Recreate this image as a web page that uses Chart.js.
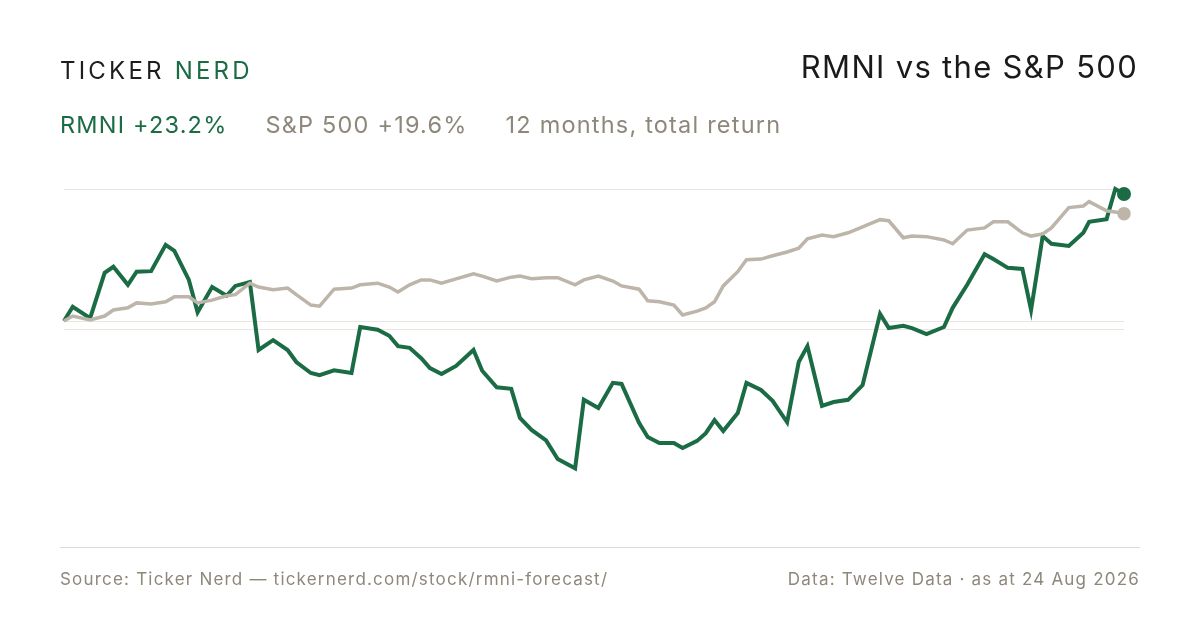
<!DOCTYPE html>
<html><head><meta charset="utf-8">
<script src="https://cdn.jsdelivr.net/npm/chart.js@4"></script>
<style>
body{margin:0;width:1200px;height:630px;background:#fff;font-family:Inter,"Noto Sans",sans-serif;position:relative;overflow:hidden}
#c{position:absolute;left:0;top:0}
.t{position:absolute;white-space:nowrap}
</style></head><body>
<canvas id="c" width="1200" height="630"></canvas>
<div class="t" style="left:60px;top:56px;font-size:24px;letter-spacing:3.2px;color:#1d1d1b">TICKER <span style="color:#1b6b45">NERD</span></div>
<div class="t" style="right:62px;top:48px;font-size:31px;letter-spacing:1.3px;color:#1a1a1a">RMNI vs the S&amp;P 500</div>
<div class="t" style="left:60px;top:110px;font-size:23.5px;letter-spacing:1.2px;color:#8e887b"><span style="color:#1b6b45">RMNI +23.2%</span><span style="margin-left:38px">S&amp;P 500 +19.6%</span><span style="margin-left:38px">12 months, total return</span></div>
<div style="position:absolute;left:60px;top:547px;width:1080px;height:1px;background:#dedad2"></div>
<div class="t" style="left:60px;top:569px;font-size:17px;letter-spacing:1.2px;color:#8e887b">Source: Ticker Nerd — tickernerd.com/stock/rmni-forecast/</div>
<div class="t" style="right:60px;top:569px;font-size:17px;letter-spacing:1.2px;color:#8e887b">Data: Twelve Data · as at 24 Aug 2026</div>
<script>
const days=[0,3,9,14,17,22,25,30,35,38,43,46,51,56,59,64,67,72,77,80,85,88,93,99,102,108,112,115,119,123,126,130,135,141,144,149,154,157,161,166,170,176,179,184,189,192,198,201,205,210,213,218,221,224,227,232,235,240,244,249,253,256,261,265,270,275,281,284,289,292,297,303,306,311,317,320,325,330,333,337,340,346,351,353,359,362,365];
const rmni=[0,2.6,0.5,8.8,9.9,6.6,9.0,9.1,13.9,12.8,7.5,1.6,6.2,4.6,6.4,7.1,-5.3,-3.5,-5.3,-7.5,-9.5,-9.9,-9.0,-9.5,-1.1,-1.6,-2.7,-4.6,-4.9,-6.8,-8.6,-9.7,-8.2,-5.3,-9.1,-12.1,-12.4,-17.7,-19.9,-21.8,-25.2,-26.9,-14.4,-15.9,-11.3,-11.5,-18.6,-21.2,-22.3,-22.3,-23.2,-21.9,-20.5,-18.1,-20.1,-16.8,-11.3,-12.6,-14.6,-18.5,-7.5,-4.6,-15.5,-14.8,-14.4,-11.7,1.3,-1.3,-0.9,-1.3,-2.4,-1.1,2.4,6.6,12.2,11.3,9.7,9.5,2.0,15.5,14.1,13.7,16.1,18.1,18.6,24.1,23.2];
const spx=[0,0.9,0.2,0.9,2.0,2.4,3.3,3.1,3.5,4.4,4.4,3.3,3.8,4.6,4.8,6.9,6.2,5.7,6.0,4.8,2.9,2.7,5.8,6.0,6.6,6.9,6.2,5.3,6.6,7.5,7.5,6.9,7.7,8.6,8.2,7.3,8.0,8.2,7.7,7.9,7.9,6.6,7.5,8.2,7.3,6.4,5.8,3.7,3.5,2.9,1.1,1.8,2.4,3.5,6.4,9.0,11.2,11.3,11.9,12.6,13.3,15.0,15.7,15.4,16.1,17.2,18.5,18.3,15.2,15.5,15.4,14.8,14.1,16.6,17.0,18.1,18.1,16.1,15.5,15.9,17.0,20.7,21.0,21.8,20.1,19.9,19.6];
const gridVals=[24.1,0,-1.5];
const last=days.length-1;
const radii=days.map((d,i)=>i===last?5:0);
const grid={id:'grid',beforeDatasetsDraw(ch){const {ctx,chartArea:a,scales:{y}}=ch;ctx.save();ctx.strokeStyle='#e9e6df';ctx.lineWidth=1;
gridVals.forEach(v=>{const py=Math.round(y.getPixelForValue(v))+0.5;ctx.beginPath();ctx.moveTo(a.left,py);ctx.lineTo(a.right,py);ctx.stroke();});ctx.restore();}};
new Chart(document.getElementById('c'),{type:'line',
data:{datasets:[
{data:days.map((d,i)=>({x:d,y:spx[i]})),borderColor:'#bdb5aa',backgroundColor:'#bdb5aa',borderWidth:3.5,pointRadius:radii,pointHoverRadius:0,tension:0,clip:false},
{data:days.map((d,i)=>({x:d,y:rmni[i]})),borderColor:'#1b6b45',backgroundColor:'#1b6b45',borderWidth:4,pointRadius:radii,pointHoverRadius:0,tension:0,clip:false}]},
options:{responsive:false,animation:false,events:[],
layout:{padding:{left:64,right:76,top:189,bottom:90}},
plugins:{legend:{display:false},tooltip:{enabled:false}},
scales:{x:{type:'linear',min:0,max:365,display:false},y:{min:-40,max:24.1,display:false}}},
plugins:[grid]});
</script></body></html>
